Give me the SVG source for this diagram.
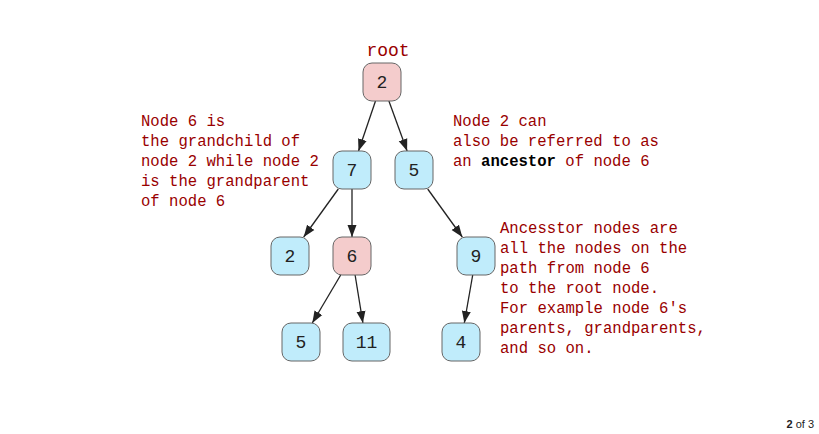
<svg xmlns="http://www.w3.org/2000/svg" width="819" height="434" viewBox="0 0 819 434">
<defs>
<marker id="arr" markerUnits="userSpaceOnUse" markerWidth="12" markerHeight="12" viewBox="0 0 12 12" refX="12" refY="6" orient="auto">
<path d="M0,1.5 L12,6 L0,10.5 Z" fill="#222"/>
</marker>
<style>
.blue{fill:#c0ecfb;stroke:#666;stroke-width:1}
.pink{fill:#f4cccc;stroke:#666;stroke-width:1}
.lbl{font-family:"Liberation Mono","Courier New",monospace;font-size:18px;fill:#222;text-anchor:middle}
.note{font-family:"Liberation Mono","Courier New",monospace;font-size:15.6px;fill:#990000}
.edge{stroke:#222;stroke-width:1.3;fill:none;marker-end:url(#arr)}
</style>
</defs>
<rect width="819" height="434" fill="#fff"/>
<g id="connectors">
<line class="edge" x1="375.5" y1="101" x2="358.5" y2="151"/>
<line class="edge" x1="388.9" y1="101" x2="407.1" y2="151"/>
<line class="edge" x1="338.3" y1="189" x2="303.7" y2="237"/>
<line class="edge" x1="352" y1="189" x2="352" y2="237"/>
<line class="edge" x1="427.7" y1="189" x2="462.3" y2="237"/>
<line class="edge" x1="340.7" y1="275" x2="312.3" y2="323"/>
<line class="edge" x1="355.1" y1="275" x2="362.9" y2="323"/>
<line class="edge" x1="472.7" y1="275" x2="464.3" y2="323"/>
</g>
<text x="388" y="56" class="note" style="font-size:18px" text-anchor="middle">root</text>
<g id="n_root"><rect class="pink" x="363" y="63" width="38" height="38" rx="9"/><text class="lbl" x="382" y="88">2</text></g>
<g id="n_7"><rect class="blue" x="333" y="151" width="38" height="38" rx="9"/><text class="lbl" x="352" y="176">7</text></g>
<g id="n_5a"><rect class="blue" x="395" y="151" width="38" height="38" rx="9"/><text class="lbl" x="414" y="176">5</text></g>
<g id="n_2"><rect class="blue" x="271" y="237" width="38" height="38" rx="9"/><text class="lbl" x="290" y="262">2</text></g>
<g id="n_6"><rect class="pink" x="333" y="237" width="38" height="38" rx="9"/><text class="lbl" x="352" y="262">6</text></g>
<g id="n_9"><rect class="blue" x="457" y="237" width="38" height="38" rx="9"/><text class="lbl" x="476" y="262">9</text></g>
<g id="n_5b"><rect class="blue" x="282" y="323" width="38" height="38" rx="9"/><text class="lbl" x="301" y="348">5</text></g>
<g id="n_11"><rect class="blue" x="343" y="323" width="47" height="38" rx="9"/><text class="lbl" x="366.5" y="348">11</text></g>
<g id="n_4"><rect class="blue" x="442" y="323" width="38" height="38" rx="9"/><text class="lbl" x="461" y="348">4</text></g>
<g id="note1" class="note">
<text class="note" x="141" y="126">Node 6 is</text>
<text class="note" x="141" y="146">the grandchild of</text>
<text class="note" x="141" y="166">node 2 while node 2</text>
<text class="note" x="141" y="186">is the grandparent</text>
<text class="note" x="141" y="206">of node 6</text>
</g>
<g id="note2">
<text class="note" x="453" y="126">Node 2 can</text>
<text class="note" x="453" y="146">also be referred to as</text>
<text class="note" x="453" y="166">an <tspan style="fill:#000;font-weight:bold">ancestor</tspan> of node 6</text>
</g>
<g id="note3">
<text class="note" x="500" y="233">Ancesstor nodes are</text>
<text class="note" x="500" y="253">all the nodes on the</text>
<text class="note" x="500" y="273">path from node 6</text>
<text class="note" x="500" y="293">to the root node.</text>
<text class="note" x="500" y="313">For example node 6's</text>
<text class="note" x="500" y="333">parents, grandparents,</text>
<text class="note" x="500" y="353">and so on.</text>
</g>
<text x="814" y="428" text-anchor="end" style="font-family:'Liberation Sans',Arial,sans-serif;font-size:11px;fill:#222"><tspan font-weight="bold">2</tspan> of 3</text>
</svg>
